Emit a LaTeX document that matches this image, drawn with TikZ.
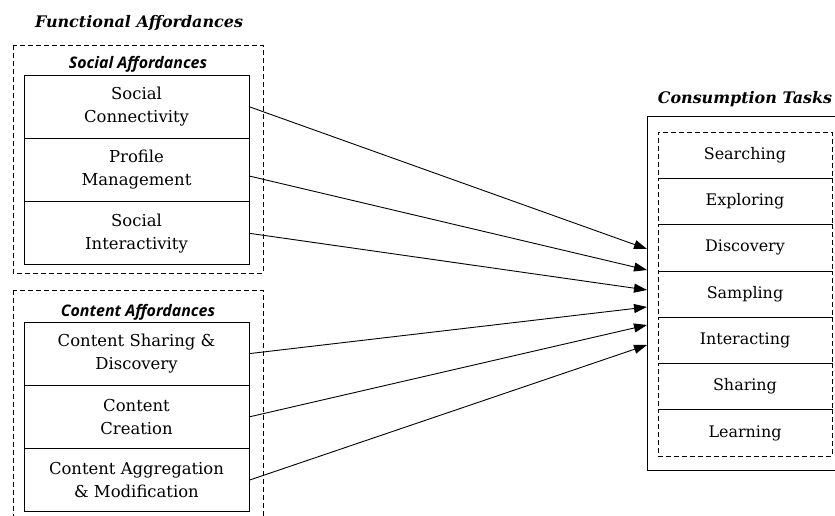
\documentclass[tikz,border=0pt]{standalone}
\usepackage{fontspec}
\setmainfont{DejaVu Serif}
\newfontfamily\subfont{Open Sans}
\usetikzlibrary{positioning,arrows.meta}

\tikzset{
	affbox/.style={draw, line width=0.9bp, outer sep=0pt, inner sep=0pt,
		minimum width=225bp, minimum height=63.3bp, align=center,
		font=\fontsize{16.5}{23}\selectfont},
	taskbox/.style={draw, dash pattern=on 5bp off 3bp, line width=0.8bp, outer sep=0pt, inner sep=0pt,
		minimum width=174bp, minimum height=46.3bp,
		font=\fontsize{16}{18}\selectfont},
	groupbox/.style={draw, line width=0.8bp, dash pattern=on 5bp off 3bp},
	maintitle/.style={font=\bfseries\itshape\fontsize{16}{18}\selectfont},
	subtitle/.style={font=\subfont\bfseries\itshape\fontsize{16}{18}\selectfont},
	link/.style={line width=0.9bp, -{Triangle[length=13bp,width=9bp]}}
}

\begin{document}
\begin{tikzpicture}[x=1bp,y=-1bp]
	\useasboundingbox (0,0) rectangle (835,516);
	% functional affordances
	\draw[groupbox] (13,45) rectangle (263,273);
	\draw[groupbox] (13,290) rectangle (263,530);
	\node[maintitle] (funct) at (139,23) {Functional Affordances};
	\node[subtitle] (soc) at (138,64) {Social Affordances};
	\node[subtitle] (cont) at (138,312) {Content Affordances};
	\node[affbox, anchor=north] (sc) at (136.5,75) {Social\\Connectivity};
	\node[affbox, below=0pt of sc] (pm) {Profile\\Management};
	\node[affbox, below=0pt of pm] (si) {Social\\Interactivity};
	\node[affbox, anchor=north] (cs) at (136.5,322) {Content Sharing \&\\Discovery};
	\node[affbox, below=0pt of cs] (cc) {Content\\Creation};
	\node[affbox, below=0pt of cc] (ca) {Content Aggregation\\\& Modification};
	% consumption tasks
	\node[maintitle] (cons) at (745,99) {Consumption Tasks};
	\draw[line width=0.9bp] (840,116) -- (647,116) -- (647,470) -- (840,470);
	\node[taskbox, anchor=north] (t1) at (745,132) {Searching};
	\node[taskbox, below=0pt of t1] (t2) {Exploring};
	\node[taskbox, below=0pt of t2] (t3) {Discovery};
	\node[taskbox, below=0pt of t3] (t4) {Sampling};
	\node[taskbox, below=0pt of t4] (t5) {Interacting};
	\node[taskbox, below=0pt of t5] (t6) {Sharing};
	\node[taskbox, below=0pt of t6] (t7) {Learning};
	% arrow ends on the box side
	\coordinate (e1) at (647,249);
	\coordinate (e2) at (647,270);
	\coordinate (e3) at (647,290);
	\coordinate (e4) at (647,307);
	\coordinate (e5) at (647,325);
	\coordinate (e6) at (647,345);
	\draw[link] (sc.east) -- (e1);
	\draw[link] ([yshift=-6bp]pm.east) -- (e2);
	\draw[link] (si.east) -- (e3);
	\draw[link] (cs.east) -- (e4);
	\draw[link] (cc.east) -- (e5);
	\draw[link] (ca.east) -- (e6);
\end{tikzpicture}
\end{document}
